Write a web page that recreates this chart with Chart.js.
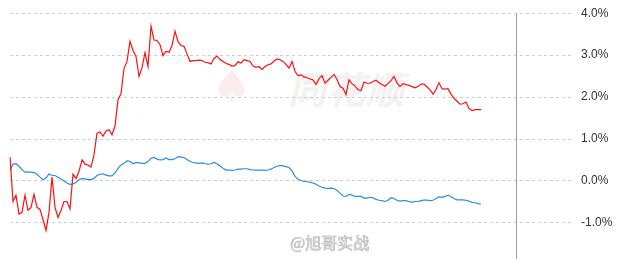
<!DOCTYPE html>
<html>
<head>
<meta charset="utf-8">
<script src="https://cdn.jsdelivr.net/npm/chart.js@4/dist/chart.umd.min.js"></script>
<style>
	html, body { margin: 0; padding: 0; background: #fff; overflow: hidden; }
	#wrap { position: relative; width: 633px; height: 259px; overflow: hidden; }
	#chart { position: absolute; left: 0; top: -4px; }
	.logo { position: absolute; left: 288px; top: 60px; font: italic bold 38px "Noto Sans CJK SC"; color: #f6f1f1; letter-spacing: 1px; }
	.spade { position: absolute; left: 212px; top: 60px; font: 44px "DejaVu Sans"; color: #fcecec; }
	.weibo { position: absolute; left: 290px; top: 230px; font: 16px "Noto Sans CJK SC"; color: #f0f0f0; -webkit-text-stroke: 0.6px #b0b0b0; }
</style>
</head>
<body>
<div id="wrap">
	<div class="spade">♠</div>
	<div class="logo">同花顺</div>
	<canvas id="chart" width="633" height="286"></canvas>
	<div class="weibo">@旭哥实战</div>
</div>
<script>
// minute slots on the x axis (data fills the first part of the session)
const slots = [];
for (let i = 0; i < 188; i++) slots.push(i);

// y axis tick labels (%)
const yTicks = [4, 3, 2, 1, 0, -1, -2];

// current time marker (slot index)
const nowSlot = 168.7;

// red line, % change
const redValues = [
	0.57, -0.49, -0.34, -0.79, -0.75, -0.34, -0.70, -0.63, -0.32, -0.63,
	-0.68, -0.92, -1.18, -0.75, 0.09, -0.63, -0.87, -0.70, -0.49, -0.49,
	-0.67, 0.16, 0.06, 0.23, 0.50, 0.40, 0.38, 0.33, 0.62, 1.14,
	1.17, 1.07, 1.19, 1.22, 1.10, 1.31, 1.94, 2.08, 2.68, 2.85,
	3.33, 3.11, 2.97, 2.49, 2.70, 3.06, 2.73, 3.69, 3.36, 3.35,
	3.25, 2.99, 3.09, 3.07, 3.23, 3.57, 3.32, 3.23, 3.21, 3.03,
	2.85, 2.87, 2.87, 2.88, 2.87, 2.83, 2.82, 2.79, 2.92, 2.98,
	2.90, 2.85, 2.80, 2.78, 2.74, 2.75, 2.84, 2.81, 2.89, 2.87,
	2.85, 2.74, 2.71, 2.73, 2.66, 2.73, 2.77, 2.79, 2.86, 2.91,
	2.89, 2.85, 2.78, 2.69, 2.85, 2.61, 2.51, 2.53, 2.48, 2.46,
	2.43, 2.41, 2.30, 2.44, 2.51, 2.33, 2.40, 2.47, 2.54, 2.42,
	2.25, 2.21, 2.06, 2.41, 2.32, 2.26, 2.18, 2.15, 2.36, 2.33,
	2.33, 2.37, 2.40, 2.34, 2.30, 2.26, 2.32, 2.39, 2.49, 2.34,
	2.25, 2.32, 2.30, 2.28, 2.25, 2.22, 2.25, 2.31, 2.31, 2.24,
	2.17, 2.07, 2.18, 2.34, 2.20, 2.19, 2.20, 2.07, 1.97, 1.90,
	1.83, 1.84, 1.88, 1.73, 1.68, 1.70, 1.70, 1.70
];

// blue line, % change
const blueValues = [
	0.25, 0.40, 0.41, 0.35, 0.27, 0.21, 0.21, 0.21, 0.20, 0.16,
	0.09, 0.03, 0.07, 0.17, 0.13, 0.13, 0.09, 0.05, 0.00, -0.05,
	-0.08, -0.07, -0.03, 0.03, 0.06, 0.05, 0.03, 0.03, 0.06, 0.13,
	0.16, 0.17, 0.14, 0.12, 0.12, 0.19, 0.30, 0.38, 0.42, 0.48,
	0.47, 0.41, 0.44, 0.43, 0.42, 0.42, 0.46, 0.54, 0.56, 0.52,
	0.50, 0.51, 0.55, 0.51, 0.51, 0.53, 0.58, 0.57, 0.56, 0.51,
	0.47, 0.44, 0.43, 0.42, 0.43, 0.41, 0.40, 0.41, 0.44, 0.41,
	0.36, 0.30, 0.26, 0.26, 0.25, 0.26, 0.28, 0.28, 0.29, 0.29,
	0.27, 0.26, 0.25, 0.26, 0.26, 0.25, 0.26, 0.28, 0.32, 0.35,
	0.37, 0.36, 0.34, 0.32, 0.24, 0.11, 0.04, 0.01, -0.01, -0.02,
	-0.03, -0.05, -0.08, -0.12, -0.15, -0.17, -0.18, -0.17, -0.18, -0.23,
	-0.29, -0.36, -0.37, -0.32, -0.34, -0.37, -0.37, -0.37, -0.41, -0.41,
	-0.39, -0.40, -0.44, -0.46, -0.47, -0.49, -0.46, -0.40, -0.42, -0.46,
	-0.48, -0.47, -0.47, -0.49, -0.51, -0.49, -0.49, -0.47, -0.46, -0.46,
	-0.47, -0.46, -0.42, -0.38, -0.39, -0.37, -0.34, -0.37, -0.42, -0.45,
	-0.45, -0.45, -0.46, -0.48, -0.51, -0.52, -0.54, -0.55
];

// Draws the "now" line from the top of the plot down past the bottom
const nowLine = {
	id: "nowLine",
	afterDatasetsDraw(chart) {
		const ctx = chart.ctx;
		const x = Math.round(chart.scales.x.getPixelForValue(nowSlot)) + 0.5;
		ctx.save();
		ctx.strokeStyle = "#a0a0a0";
		ctx.lineWidth = 1;
		ctx.beginPath();
		ctx.moveTo(x, chart.chartArea.top);
		ctx.lineTo(x, chart.height);
		ctx.stroke();
		ctx.restore();
	},
};

new Chart(document.getElementById("chart").getContext("2d"), {
	type: "line",
	data: {
		labels: slots,
		datasets: [
			{
				data: redValues,
				borderColor: "#ff1010",
				borderWidth: 1.2,
				pointRadius: 0,
				tension: 0,
			},
			{
				data: blueValues,
				borderColor: "#2a8de4",
				borderWidth: 1.2,
				pointRadius: 0,
				tension: 0,
			},
		],
	},
	options: {
		responsive: false,
		animation: false,
		events: [],
		layout: { padding: { left: 10, top: 7, bottom: 6, right: 0 } },
		plugins: { legend: { display: false }, tooltip: { enabled: false } },
		scales: {
			x: { display: false },
			y: {
				position: "right",
				min: -2,
				max: 4,
				afterFit: (scale) => {
					scale.width = 62;
				},
				afterBuildTicks: (scale) => {
					scale.ticks = yTicks.map((v) => ({ value: v }));
				},
				border: { display: false, dash: [3, 3] },
				grid: {
					color: "#cfcfcf",
					drawTicks: false,
				},
				ticks: {
					padding: 10,
					color: "#333",
					font: { family: "'Liberation Sans', Arial", size: 12 },
					callback: (v) => v.toFixed(1) + "%",
				},
			},
		},
	},
	plugins: [nowLine],
});
</script>
</body>
</html>
